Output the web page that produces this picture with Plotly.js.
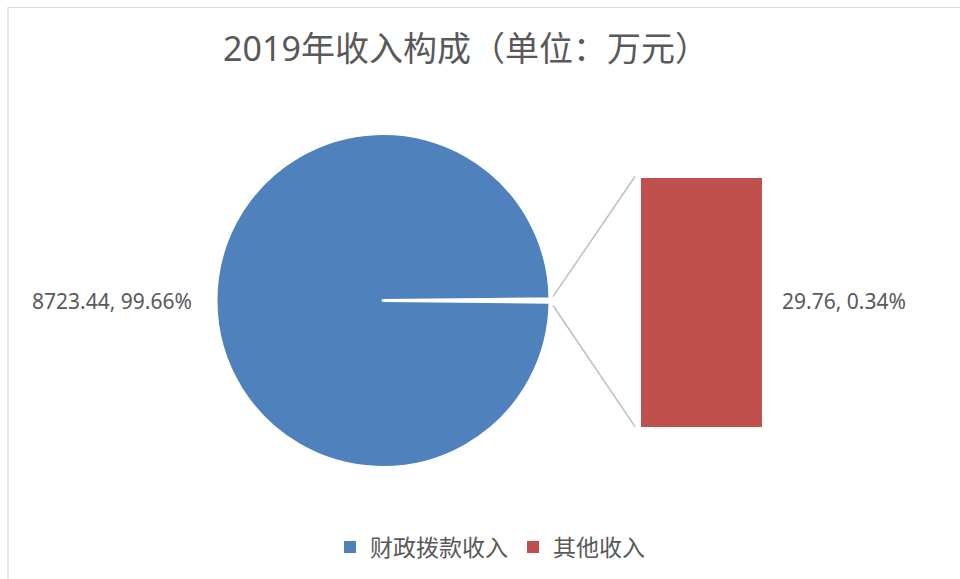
<!DOCTYPE html>
<html>
<head>
<meta charset="utf-8">
<script src="https://cdn.plot.ly/plotly-3.0.1.min.js"></script>
<style>
  html, body { margin: 0; padding: 0; background: #fff; }
  #chart { width: 960px; height: 579px; }
</style>
</head>
<body>
<div id="chart"></div>
<script>
// ---- data ----
const categories = ['财政拨款收入', '其他收入'];
const values = [8723.44, 29.76];
const colors = ['#4F81BD', '#C0504D'];
const titleText = '2019年收入构成（单位：万元）';

// ---- helpers ----
const W = 960, H = 579;
const px = x => x / W;
const py = y => (H - y) / H;
const total = values.reduce((a, b) => a + b, 0);
const pct = v => (v / total * 100).toFixed(2) + '%';
const fmt = v => v.toFixed(2);

const FONT = 'Noto Sans, Noto Sans CJK SC, sans-serif';
const GREY = '#595959';

// pie geometry (pixels)
const cx = 383, cy = 300.5, r = 167;
// bar geometry (pixels)
const barL = 641, barR = 762, barT = 178, barB = 427;

const smallAngle = values[1] / total * 360;

const pie = {
  type: 'pie',
  values: [values[1], values[0]],
  labels: [categories[1], categories[0]],
  sort: false,
  direction: 'clockwise',
  rotation: 90 - smallAngle / 2,
  marker: { colors: ['#FFFFFF', colors[0]], line: { color: '#FFFFFF', width: 3 } },
  textinfo: 'none',
  hoverinfo: 'label+value+percent',
  showlegend: false,
  domain: { x: [px(cx - r), px(cx + r)], y: [py(cy + r), py(cy - r)] }
};

const bar = {
  type: 'bar',
  x: [categories[1]],
  y: [values[1]],
  width: [1],
  marker: { color: colors[1], line: { width: 0 } },
  showlegend: false,
  hoverinfo: 'y',
  xaxis: 'x', yaxis: 'y'
};

const legendTraces = categories.map((c, i) => ({
  type: 'scatter', mode: 'markers',
  x: [null], y: [null],
  name: c,
  marker: { symbol: 'square', size: 12, color: colors[i] },
  xaxis: 'x', yaxis: 'y',
  hoverinfo: 'skip'
}));

const lineStyle = { color: '#BFBFBF', width: 1.5 };

const layout = {
  width: W, height: H,
  margin: { l: 0, r: 0, t: 0, b: 0 },
  paper_bgcolor: '#FFFFFF',
  plot_bgcolor: 'rgba(0,0,0,0)',
  font: { family: FONT, color: GREY },
  title: {
    text: titleText,
    font: { family: FONT, size: 34, color: GREY },
    x: px(466), xanchor: 'center', xref: 'container',
    y: py(49), yanchor: 'middle', yref: 'container'
  },
  xaxis: {
    domain: [px(barL), px(barR)],
    range: [-0.5, 0.5],
    type: 'category',
    visible: false, fixedrange: true
  },
  yaxis: {
    domain: [py(barB), py(barT)],
    range: [0, values[1]],
    visible: false, fixedrange: true
  },
  showlegend: true,
  legend: {
    orientation: 'h',
    x: px(490), xanchor: 'center',
    y: py(547), yanchor: 'middle',
    font: { family: FONT, size: 23, color: GREY },
    itemwidth: 30,
    traceorder: 'normal',
    bgcolor: 'rgba(0,0,0,0)'
  },
  annotations: [
    {
      xref: 'paper', yref: 'paper',
      x: px(194), y: py(cy), xanchor: 'right', yanchor: 'middle',
      text: fmt(values[0]) + ', ' + pct(values[0]),
      showarrow: false,
      font: { family: FONT, size: 21, color: GREY }
    },
    {
      xref: 'paper', yref: 'paper',
      x: px(780), y: py(cy), xanchor: 'left', yanchor: 'middle',
      text: fmt(values[1]) + ', ' + pct(values[1]),
      showarrow: false,
      font: { family: FONT, size: 21, color: GREY }
    }
  ],
  shapes: [
    // chart border
    { type: 'rect', xref: 'paper', yref: 'paper',
      x0: px(8), x1: px(975), y0: py(600), y1: py(7.5),
      line: { color: '#D9D9D9', width: 1.2 }, fillcolor: 'rgba(0,0,0,0)', layer: 'below' },
    // connector lines
    { type: 'line', xref: 'paper', yref: 'paper',
      x0: px(553), y0: py(296.7), x1: px(635), y1: py(176.5), line: lineStyle },
    { type: 'line', xref: 'paper', yref: 'paper',
      x0: px(553), y0: py(305.5), x1: px(635), y1: py(426.7), line: lineStyle }
  ]
};

Plotly.newPlot('chart', [pie, bar].concat(legendTraces), layout, { displayModeBar: false, staticPlot: false });
</script>
</body>
</html>
